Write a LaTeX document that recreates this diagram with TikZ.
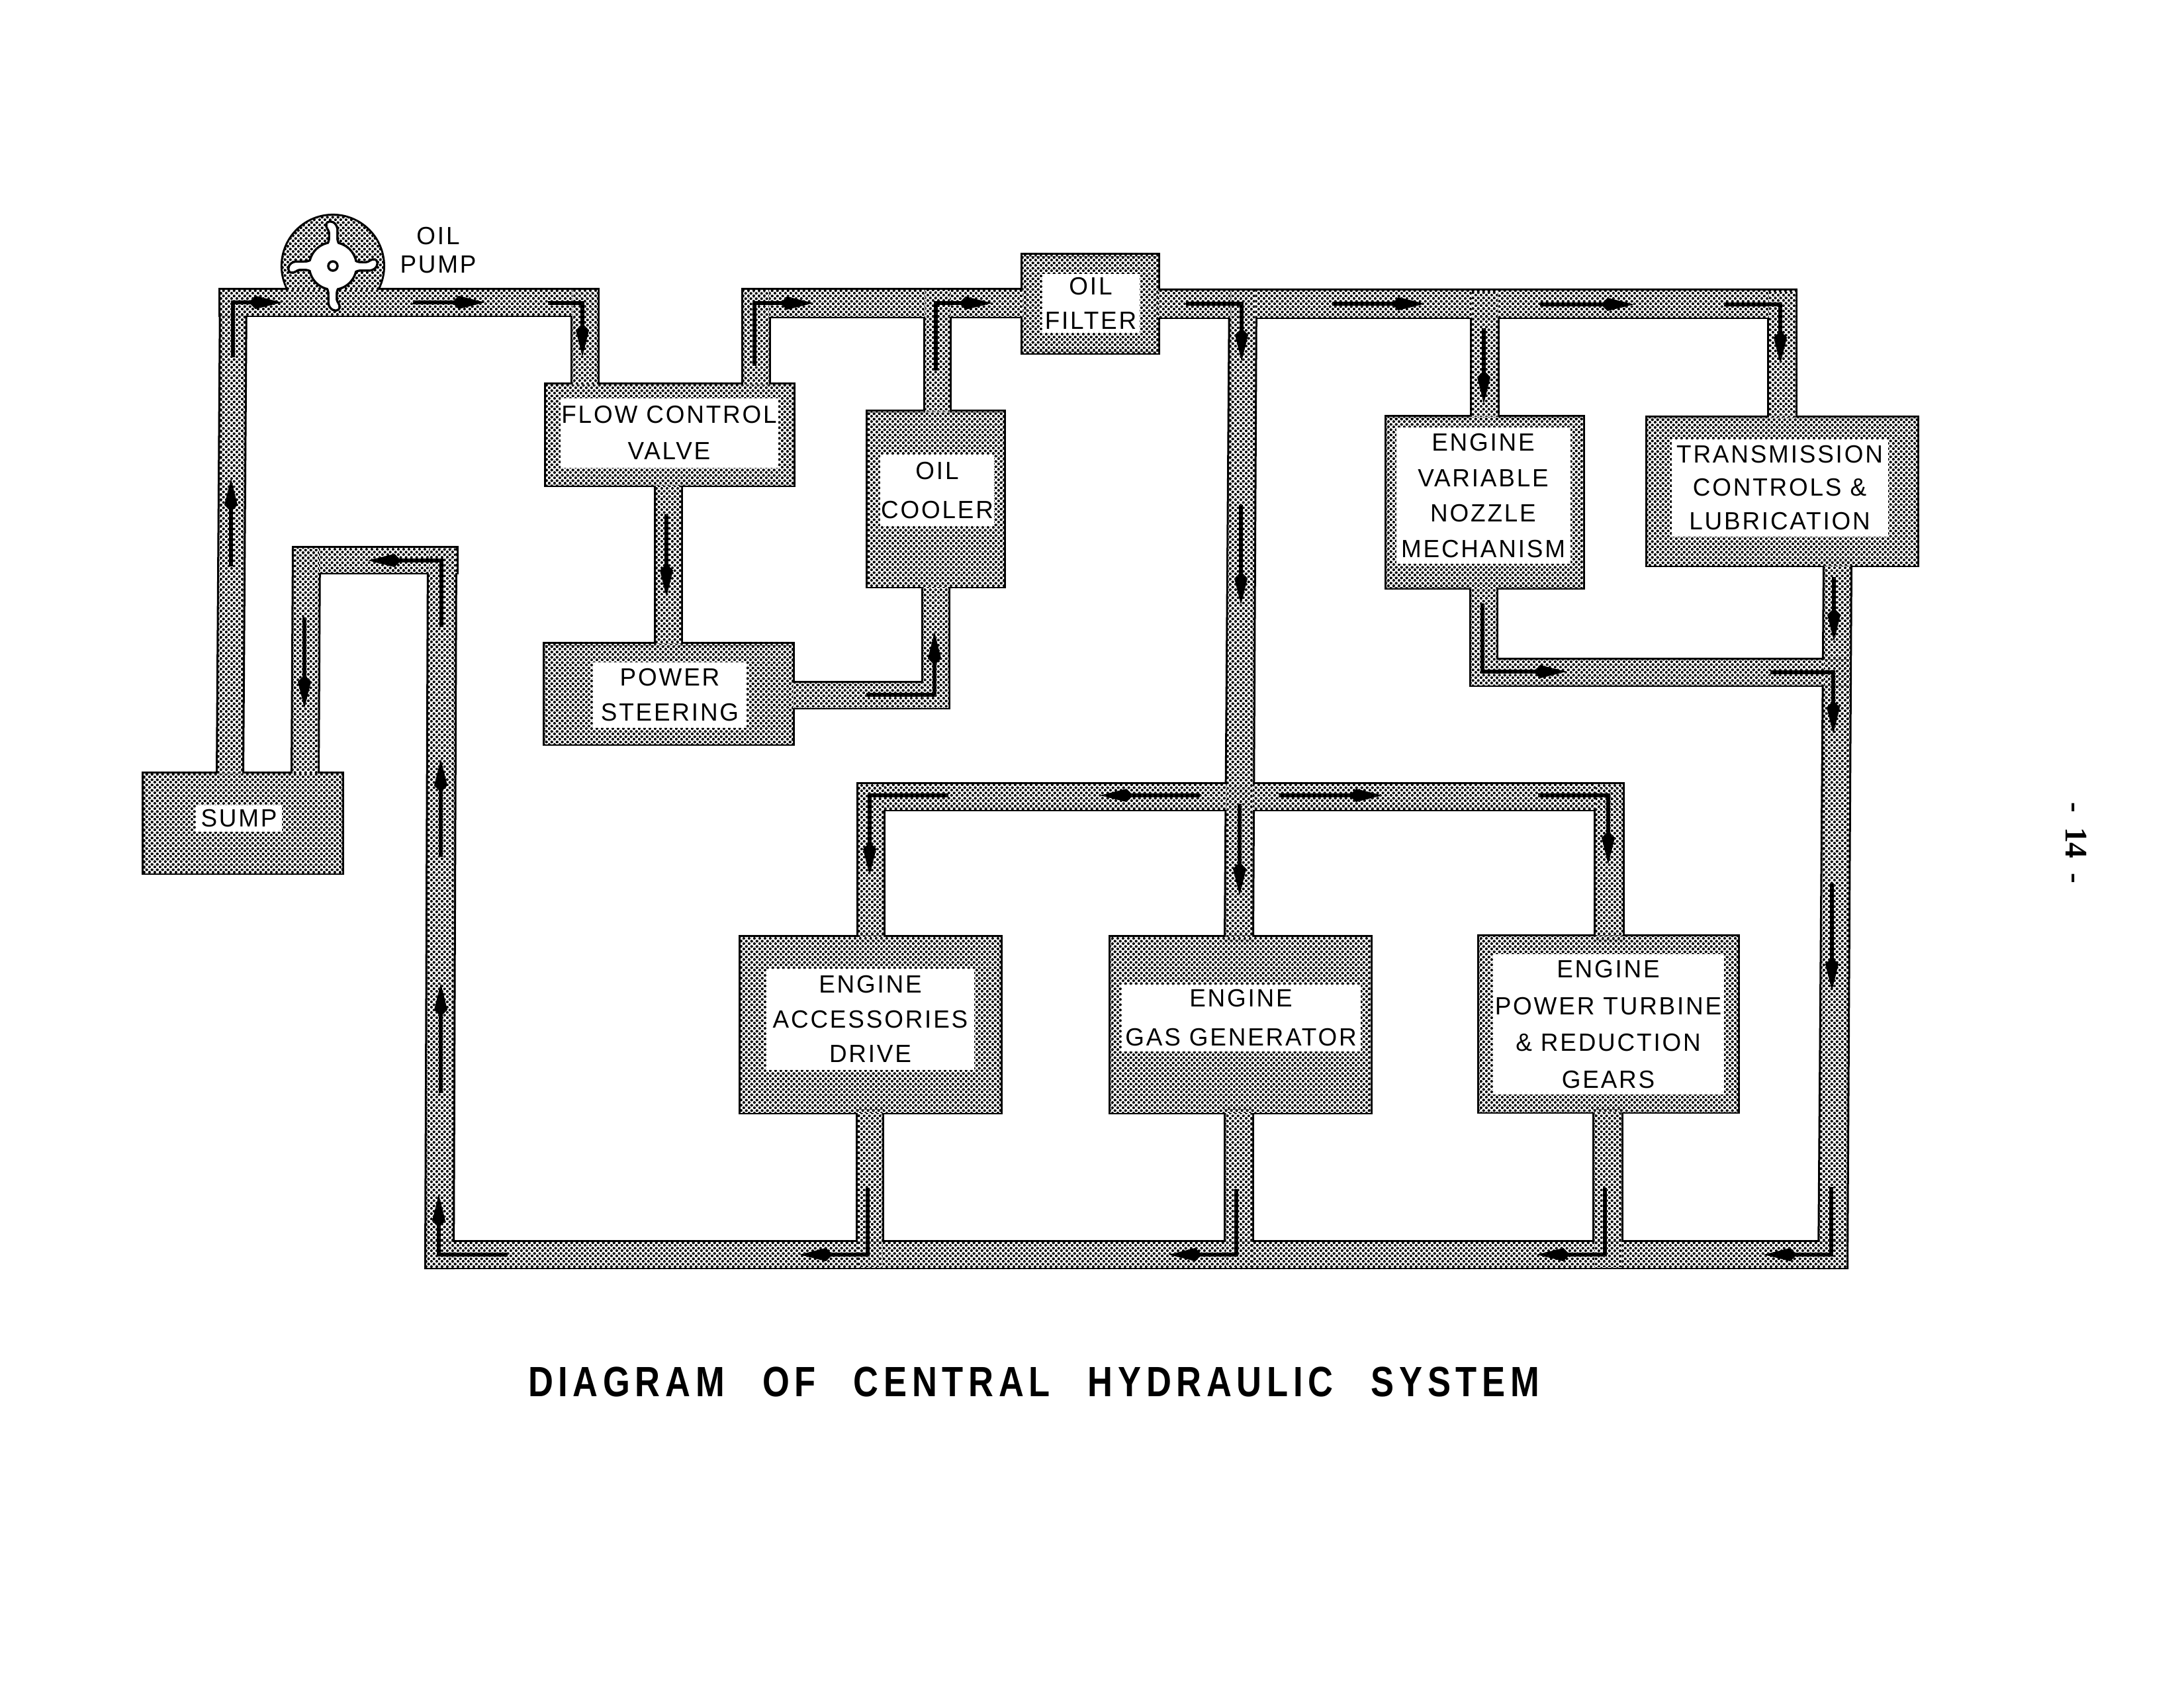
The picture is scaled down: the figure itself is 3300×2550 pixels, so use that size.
\documentclass[tikz,border=0pt]{standalone}
\usepackage{fontspec}
\usetikzlibrary{arrows.meta,patterns}
\newfontfamily\lblfont[LetterSpace=7.5,FakeStretch=0.98]{Liberation Sans}
\newfontfamily\ttlfont[LetterSpace=12,FakeStretch=0.82]{Liberation Sans Bold}
\newfontfamily\pgfont{Liberation Serif Bold}
\pgfdeclarepatterninherentlycolored{halftone}{\pgfqpoint{0pt}{0pt}}{\pgfqpoint{2.2pt}{2.2pt}}{\pgfqpoint{2.2pt}{2.2pt}}{%
  \pgfsetfillcolor{white}\pgfpathrectangle{\pgfqpoint{0pt}{0pt}}{\pgfqpoint{2.2pt}{2.2pt}}\pgfusepath{fill}%
  \pgfsetfillcolor{black}%
  \pgfpathcircle{\pgfqpoint{0.55pt}{0.55pt}}{0.6pt}\pgfusepath{fill}%
  \pgfpathcircle{\pgfqpoint{1.65pt}{1.65pt}}{0.6pt}\pgfusepath{fill}%
}
\tikzset{
  edgeline/.style={draw=black,line width=0.06cm,line join=miter},
  dotted fill/.style={pattern=halftone},
  unit/.style 2 args={dotted fill,inner sep=0pt,outer sep=0pt,minimum width=#1*0.01cm,minimum height=#2*0.01cm},
  unit edge/.style 2 args={edgeline,inner sep=0pt,outer sep=0pt,minimum width=#1*0.01cm,minimum height=#2*0.01cm},
  plate/.style n args={3}{fill=white,inner sep=0pt,outer sep=0pt,minimum width=#1*0.01cm,minimum height=#2*0.01cm,align=center,text=black,
    font={\lblfont\fontsize{10.7pt}{#3pt}\selectfont}},
  flow/.style={draw=black,line width=0.055cm,line join=miter,line cap=butt,-{Kite[length=0.5cm,width=0.2cm,inset=0.1cm]}},
  vane/.style={line join=round},
}
\newcommand{\vaneshape}{(-9,-30) .. controls (-5,-34) and (-4,-38) .. (-4,-44) -- (-4,-50) .. controls (-4,-56) and (-10,-58) .. (-8,-64) .. controls (-4,-68) and (4,-64) .. (5,-56) -- (5,-44) .. controls (5,-38) and (6,-34) .. (10,-30) -- cycle}
\newcommand{\hruns}{333/903/438/476, 1123/1548/438/478, 1195/1433/1032/1069, 1748/2713/439/479, 2223/2795/997/1035, 1297/2452/1185/1223, 645/2790/1877/1915, 444/690/828/865}
\newcommand{\vruns}{334/371/438/329/366/1172, 865/903/438/865/903/585, 991/1029/730/991/1029/976, 1123/1162/438/1123/1162/585, 1398/1435/438/1398/1435/625, 1395/1433/883/1395/1433/1069, 1859/1897/439/1852/1892/1420, 2224/2263/441/2224/2263/633, 2673/2713/441/2673/2713/634, 2223/2261/885/2223/2261/1035, 2757/2796/850/2749/2790/1915, 1297/1335/1185/1297/1335/1420, 2411/2452/1185/2411/2452/1418, 1296/1333/1678/1296/1333/1914, 1852/1892/1678/1852/1892/1914, 2409/2450/1677/2409/2450/1914, 648/688/828/644/684/1915, 444/482/828/442/480/1172}
\newcommand{\units}{fcv/1012/657/374/152, ps/1010.5/1048.5/375/151, cooler/1414/754/206/264, filter/1647.5/459/205/148, envn/2243.5/759/297/258, trans/2693/742.5/408/223, ead/1315.5/1548.5/393/265, egg/1874.5/1548.5/393/265, ept/2430.5/1547.5/391/265, sump/367/1244/300/150}
\begin{document}
\begin{tikzpicture}[x=0.01cm,y=-0.01cm]
\useasboundingbox (0,0) rectangle (3300,2550);
% outline pass
\foreach \a/\b/\c/\d in \hruns {\draw[edgeline] (\a,\c) rectangle (\b,\d);}
\foreach \a/\b/\c/\d/\e/\f in \vruns {\draw[edgeline] (\a,\c) -- (\b,\c) -- (\e,\f) -- (\d,\f) -- cycle;}
\foreach \n/\cx/\cy/\w/\h in \units {\node[unit edge={\w}{\h}] (\n edge) at (\cx,\cy) {};}
\draw[edgeline] (569.9,438) arc[start angle=-28.3,end angle=208.3,radius=0.76cm] -- cycle;
% fill pass
\fill[dotted fill] (569.9,438) arc[start angle=-28.3,end angle=208.3,radius=0.76cm] -- cycle;
\foreach \a/\b/\c/\d in \hruns {\fill[dotted fill] (\a,\c) rectangle (\b,\d);}
\foreach \a/\b/\c/\d/\e/\f in \vruns {\fill[dotted fill] (\a,\c) -- (\b,\c) -- (\e,\f) -- (\d,\f) -- cycle;}
\foreach \n/\cx/\cy/\w/\h in \units {\node[unit={\w}{\h}] (\n) at (\cx,\cy) {};}
% pump rotor
\coordinate (pump) at (503,402);
\begin{scope}[shift={(pump)}]
  \foreach \r in {0,-90,-180,-270} {\draw[vane,line width=0.07cm,rotate=\r] \vaneshape;}
  \draw[line width=0.07cm] (0,0) circle[radius=0.34cm];
  \foreach \r in {0,-90,-180,-270} {\fill[white,rotate=\r] \vaneshape;}
  \fill[white] (0,0) circle[radius=0.34cm];
  \draw[black,fill=white,line width=0.035cm] (0,0) circle[radius=0.07cm];
\end{scope}
% labels
\node[plate={329}{105}{15.6}] (fcvt) at (1011,654) {FLOW CONTROL\\VALVE};
\node[plate={232}{99}{14.8}] (pst) at (1012,1050) {POWER\\STEERING};
\node[plate={172}{108}{17}] (coolert) at (1416,741) {OIL\\COOLER};
\node[plate={147}{89}{14.8}] (filtert) at (1648,458) {OIL\\FILTER};
\node[plate={263}{206}{15.3}] (envnt) at (2241,749) {ENGINE\\VARIABLE\\NOZZLE\\MECHANISM};
\node[plate={327}{147}{14.3}] (transt) at (2689,737) {TRANSMISSION\\CONTROLS \&\\LUBRICATION};
\node[plate={314}{153}{15}] (eadt) at (1315,1540) {ENGINE\\ACCESSORIES\\DRIVE};
\node[plate={361}{101}{16.5}] (eggt) at (1875,1538) {ENGINE\\GAS GENERATOR};
\node[plate={349}{212}{15.9}] (eptt) at (2430,1548) {ENGINE\\POWER TURBINE\\\& REDUCTION\\GEARS};
\node[plate={130}{40}{14}] (sumpt) at (361,1237) {SUMP};
\node[font={\lblfont\fontsize{10.7pt}{12.2pt}\selectfont},align=center,inner sep=0pt] (pumpt) at (662,378) {OIL\\PUMP};
% flow arrows
\foreach \i/\ax/\ay/\bx/\by in {1/349/856/349/723, 2/624/457/733/457, 3/1007/777/1007/902, 4/460/933/460/1070, 5/1875/763/1875/914, 6/2013/459/2153/459, 7/2327/460/2469/460, 8/2242/496/2242/610, 9/2771/872/2771/969, 10/1813/1202/1662/1202, 11/1873/1215/1873/1353, 12/1932/1202/2089/1202, 13/2768/1335/2768/1497, 14/666/1295/666/1147, 15/666/1652/666/1486}
{\coordinate (st\i) at (\ax,\ay); \coordinate (ht\i) at (\bx,\by); \draw[flow] (st\i) -- (ht\i);}
\foreach \i/\ax/\ay/\bx/\by/\cx/\cy in {1/352/540/352/457/426/457, 2/828/458/880/458/880/539, 3/667/948/667/847/556/847, 4/1140/553/1140/458/1229/458, 5/1414/560/1414/458/1499/458, 6/1309/1050/1412/1050/1412/955, 7/1792/459/1876/459/1876/546, 8/2605/460/2690/460/2690/550, 9/2240/912/2240/1015/2367/1015, 10/2675/1016/2770/1016/2770/1109, 11/1433/1202/1314/1202/1314/1323, 12/1311/1795/1311/1896/1208/1896, 13/1868/1797/1868/1896/1766/1896, 14/2324/1202/2430/1202/2430/1306, 15/2425/1795/2425/1896/2322/1896, 16/2767/1794/2767/1896/2665/1896, 17/767/1896/663/1896/663/1805}
{\coordinate (sb\i) at (\ax,\ay); \coordinate (cb\i) at (\bx,\by); \coordinate (hb\i) at (\cx,\cy); \draw[flow] (sb\i) -- (cb\i) -- (hb\i);}
% captions
\node[font={\ttlfont\fontsize{18.2pt}{20pt}\selectfont},inner sep=0pt] (title) at (1562,2088) {DIAGRAM\hspace{0.35cm} OF\hspace{0.35cm} CENTRAL\hspace{0.35cm} HYDRAULIC\hspace{0.35cm} SYSTEM};
\node[font={\pgfont\fontsize{13.5pt}{15pt}\selectfont},rotate=-90,inner sep=0pt] (page) at (3137,1274) {-\hspace{0.1cm} 14\hspace{0.1cm} -};
\end{tikzpicture}
\end{document}
